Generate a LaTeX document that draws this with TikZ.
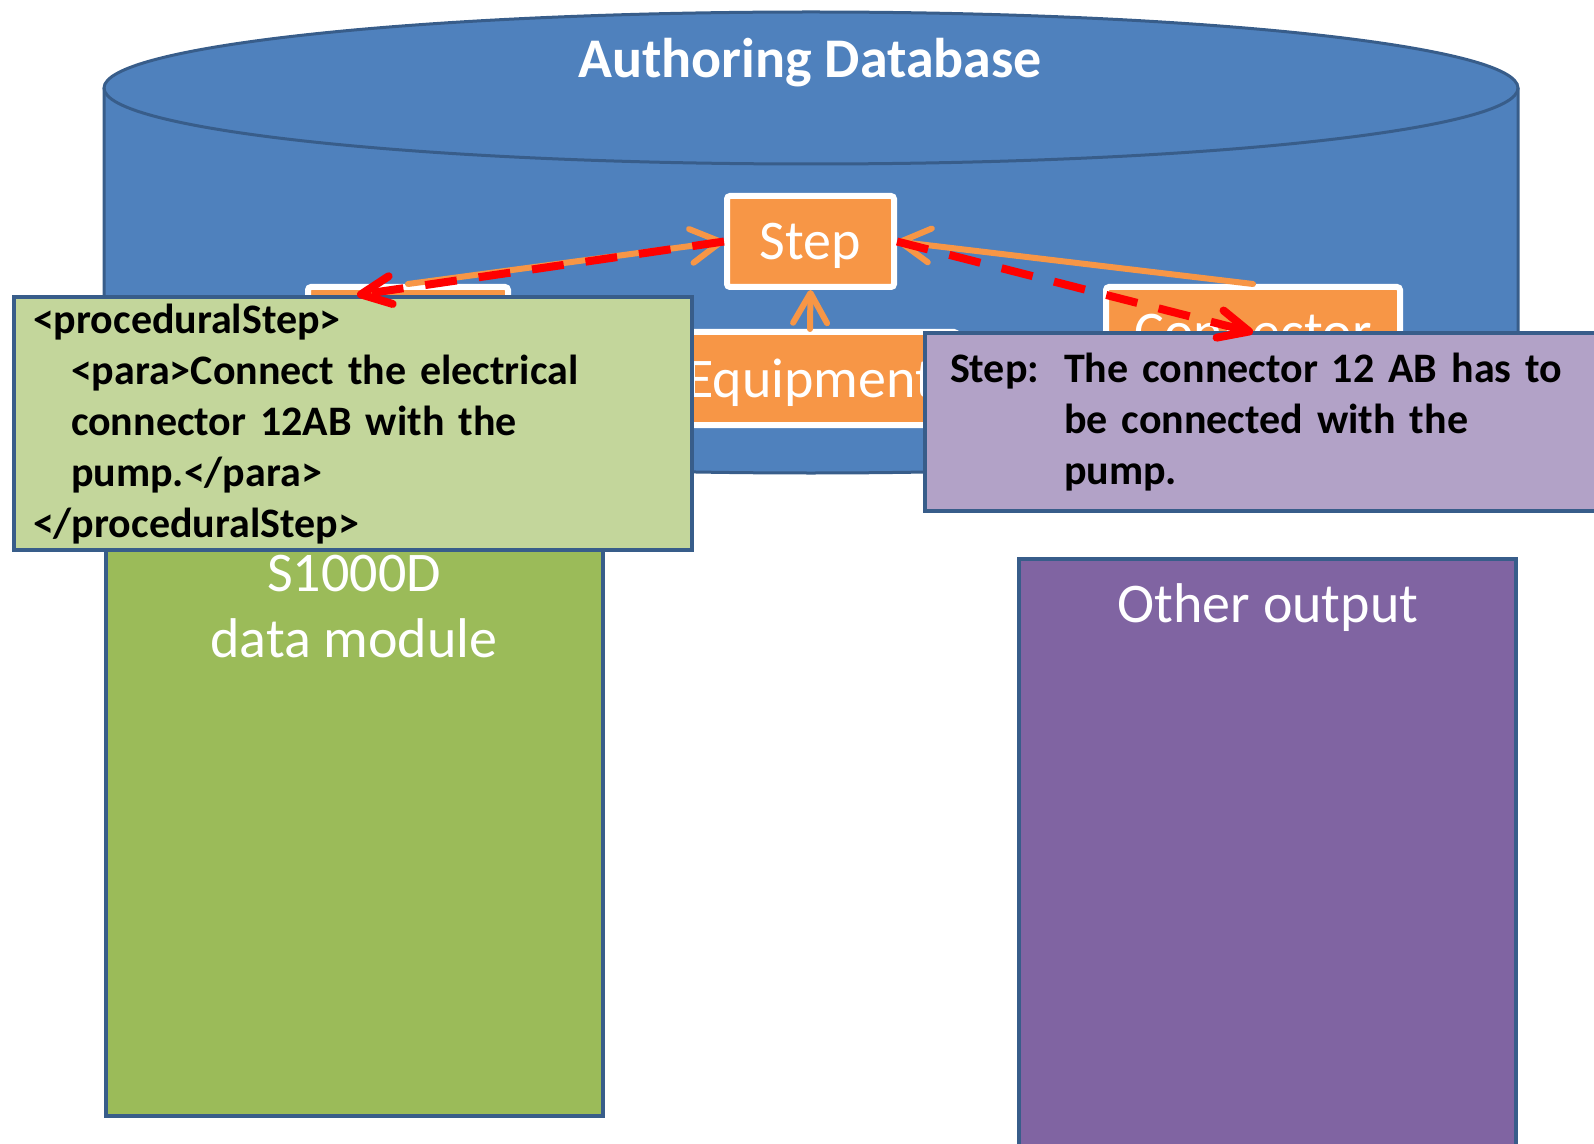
\documentclass[tikz,border=0pt]{standalone}
\usepackage{fontspec}
\setmainfont{Carlito}
\usepackage{tikz}
\usetikzlibrary{arrows.meta,positioning,calc}
\definecolor{dbblue}{HTML}{4F81BD}
\definecolor{dbline}{HTML}{385D8A}
\definecolor{entorange}{HTML}{F79646}
\definecolor{notegreen}{HTML}{C3D69B}
\definecolor{notepurple}{HTML}{B2A2C7}
\definecolor{dmgreen}{HTML}{9BBB59}
\definecolor{outpurple}{HTML}{8064A2}
\tikzset{
  entity/.style={draw=white,fill=entorange,line width=3pt,rounded corners=1.5pt,text=white,font=\fontsize{28}{33}\selectfont,minimum height=45.5pt,inner sep=0pt,text depth=0pt},
  note/.style={draw=dbline,line width=2pt,align=left,anchor=north west,inner xsep=9.5pt,font=\bfseries\fontsize{21}{25.5}\selectfont},
  outbox/.style={draw=dbline,line width=2pt,minimum width=248.5pt},
  bigtext/.style={text=white,align=center,font=\fontsize{28}{33}\selectfont},
  oarr/.style={draw=entorange,line width=3pt,line cap=round,-{Straight Barb[length=15pt,width=17pt,round]}},
  rarr/.style={draw=red,line width=4pt,dash pattern=on 16pt off 11pt,-{Straight Barb[length=15pt,width=14pt,round]}}
}
\begin{document}
\begin{tikzpicture}[x=0.5pt,y=-0.5pt]
\useasboundingbox (0,0) rectangle (1594,1144);
\clip (0,0) rectangle (1594,1144);
% database cylinder
\fill[dbblue] (104,88) -- (104,397) arc[start angle=180,end angle=360,x radius=353.5pt,y radius=38pt]
  -- (1518,88) arc[start angle=0,end angle=180,x radius=353.5pt,y radius=38pt] -- cycle;
\draw[dbline,line width=1.5pt] (104,88) -- (104,397) arc[start angle=180,end angle=360,x radius=353.5pt,y radius=38pt] -- (1518,88);
\draw[dbline,line width=1.5pt] (811,88) ellipse[x radius=353.5pt,y radius=38pt];
\node[text=white,text depth=0pt,font=\bfseries\fontsize{28}{33}\selectfont] (dbtitle) at (810,58) {Authoring Database};
% entities
\node[entity,minimum width=100pt] (lbox) at (408,332.5) {};
\node[entity,minimum width=83.5pt] (step) at (810.5,241.5) {Step};
\node[entity,minimum width=147pt,minimum height=46.5pt] (equip) at (810,378.5) {Equipment};
\node[entity,minimum width=147pt] (conn) at (1253,332.5) {Connector};
% outputs
\node[outbox,fill=dmgreen,minimum height=293pt] (dm) at (354.5,823) {};
\node[outbox,fill=outpurple,minimum height=310.5pt] (other) at (1267.5,869.5) {};
% text boxes
\node[note,fill=notegreen,minimum width=339pt,minimum height=125pt,text width=320pt] (xmlnote) at (12,295)
  {<proceduralStep>\\
   \hspace*{19pt}<para>Connect the electrical\\
   \hspace*{19pt}connector 12AB with the\\
   \hspace*{19pt}pump.</para>\\
   </proceduralStep>};
\node[note,fill=notepurple,minimum width=390pt,minimum height=89pt,text width=365pt,inner xsep=5pt] (txtnote) at (923,331)
  {\makebox[57pt][l]{Step:}The connector 12 AB has to\\
   \hspace*{57pt}be connected with the\\
   \hspace*{57pt}pump.};
\node[bigtext] (dmlabel) at (354,607) {S1000D\\data module};
\node[bigtext,text depth=0pt] (otherlabel) at (1268,603) {Other output};
% links
\coordinate (lbtip) at (357,295);
\draw[oarr] (lbox.north) -- (step.west);
\draw[oarr] (conn.north) -- (step.east);
\draw[oarr] (equip.north) -- (step.south);
\draw[rarr] (step.west) -- (lbtip);
\draw[rarr] (step.east) -- (conn.center);
\end{tikzpicture}
\end{document}
